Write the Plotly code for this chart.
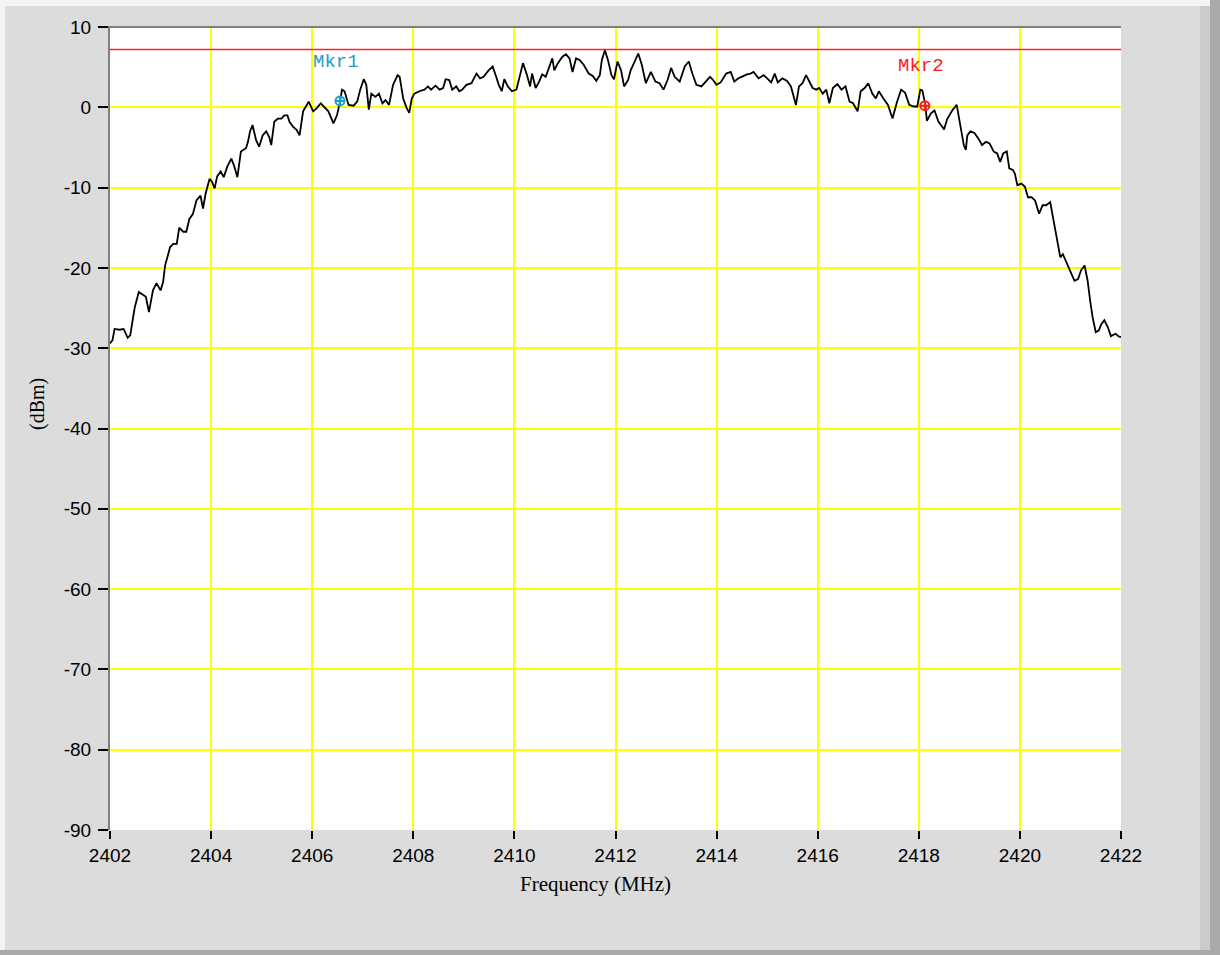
import plotly.graph_objects as go

# ---- data ----
freq_mhz = [
    2402.0, 2402.05, 2402.09, 2402.19, 2402.27, 2402.35, 2402.4, 2402.49, 2402.57, 2402.65,
    2402.71, 2402.77, 2402.85, 2402.92, 2403.0, 2403.05, 2403.09, 2403.19, 2403.25, 2403.32,
    2403.37, 2403.45, 2403.51, 2403.57, 2403.64, 2403.71, 2403.79, 2403.84, 2403.89, 2403.97,
    2404.02, 2404.07, 2404.12, 2404.19, 2404.25, 2404.32, 2404.4, 2404.45, 2404.52, 2404.59,
    2404.69, 2404.73, 2404.77, 2404.82, 2404.89, 2404.95, 2405.02, 2405.09, 2405.15, 2405.19,
    2405.25, 2405.32, 2405.39, 2405.45, 2405.51, 2405.55, 2405.62, 2405.69, 2405.75, 2405.82,
    2405.89, 2405.93, 2406.02, 2406.09, 2406.17, 2406.25, 2406.32, 2406.42, 2406.49, 2406.55,
    2406.59, 2406.64, 2406.72, 2406.82, 2406.89, 2406.95, 2407.02, 2407.07, 2407.12, 2407.17,
    2407.25, 2407.32, 2407.39, 2407.45, 2407.52, 2407.6, 2407.69, 2407.73, 2407.8, 2407.87,
    2407.92, 2407.97, 2408.02, 2408.12, 2408.22, 2408.29, 2408.35, 2408.44, 2408.52, 2408.59,
    2408.64, 2408.71, 2408.77, 2408.85, 2408.91, 2408.97, 2409.05, 2409.15, 2409.25, 2409.32,
    2409.39, 2409.49, 2409.57, 2409.64, 2409.69, 2409.75, 2409.8, 2409.87, 2409.95, 2410.04,
    2410.09, 2410.17, 2410.25, 2410.31, 2410.35, 2410.42, 2410.49, 2410.55, 2410.62, 2410.69,
    2410.75, 2410.79, 2410.86, 2410.95, 2411.02, 2411.09, 2411.15, 2411.22, 2411.29, 2411.37,
    2411.47, 2411.55, 2411.62, 2411.69, 2411.73, 2411.79, 2411.85, 2411.92, 2411.97, 2412.04,
    2412.11, 2412.17, 2412.25, 2412.3, 2412.4, 2412.45, 2412.52, 2412.6, 2412.7, 2412.79,
    2412.87, 2412.95, 2413.03, 2413.1, 2413.17, 2413.27, 2413.37, 2413.45, 2413.52, 2413.6,
    2413.7, 2413.79, 2413.87, 2413.93, 2414.0, 2414.08, 2414.19, 2414.28, 2414.35, 2414.43,
    2414.52, 2414.6, 2414.67, 2414.73, 2414.83, 2414.93, 2415.0, 2415.08, 2415.15, 2415.21,
    2415.3, 2415.39, 2415.47, 2415.57, 2415.63, 2415.7, 2415.77, 2415.83, 2415.9, 2415.97,
    2416.03, 2416.1, 2416.17, 2416.23, 2416.3, 2416.39, 2416.47, 2416.55, 2416.63, 2416.7,
    2416.79, 2416.85, 2416.93, 2417.0, 2417.08, 2417.15, 2417.21, 2417.3, 2417.39, 2417.48,
    2417.57, 2417.65, 2417.73, 2417.81, 2417.9, 2417.97, 2418.03, 2418.07, 2418.13, 2418.16,
    2418.24, 2418.31, 2418.39, 2418.46, 2418.5, 2418.56, 2418.66, 2418.75, 2418.82, 2418.89,
    2418.93, 2418.96, 2419.02, 2419.1, 2419.18, 2419.25, 2419.33, 2419.4, 2419.48, 2419.55,
    2419.61, 2419.67, 2419.74, 2419.79, 2419.86, 2419.9, 2419.95, 2420.03, 2420.1, 2420.16,
    2420.23, 2420.3, 2420.38, 2420.45, 2420.52, 2420.6, 2420.66, 2420.71, 2420.75, 2420.8,
    2420.85, 2420.92, 2421.0, 2421.08, 2421.15, 2421.21, 2421.28, 2421.34, 2421.39, 2421.44,
    2421.5, 2421.56, 2421.61, 2421.67, 2421.74, 2421.8, 2421.89, 2421.97, 2422.0,
]
power_dbm = [
    -29.4, -29.0, -27.6, -27.7, -27.6, -28.7, -28.4, -24.9, -23.0, -23.4,
    -23.6, -25.5, -22.8, -21.9, -22.8, -21.8, -19.7, -17.4, -17.0, -17.0,
    -15.0, -15.5, -15.5, -13.9, -13.3, -11.6, -11.0, -12.6, -10.8, -8.9,
    -9.3, -10.1, -8.6, -8.0, -8.7, -7.4, -6.4, -7.2, -8.7, -5.5,
    -5.1, -4.3, -3.0, -2.2, -4.1, -4.9, -3.5, -3.0, -3.7, -4.7,
    -1.8, -1.4, -1.4, -1.0, -1.0, -1.8, -2.4, -2.8, -3.5, -0.5,
    0.3, 0.7, -0.5, -0.1, 0.5, -0.1, -0.5, -2.0, -1.0, 0.7,
    2.2, 2.0, 0.3, 0.2, 0.7, 2.2, 3.5, 2.8, -0.3, 1.7,
    1.3, 1.7, 0.5, 0.9, 0.3, 2.8, 4.0, 3.8, 1.1, -0.1,
    -0.7, 1.1, 1.7, 2.0, 2.2, 2.6, 2.2, 2.7, 2.2, 2.4,
    3.5, 3.4, 2.2, 2.6, 2.0, 2.2, 2.8, 3.0, 4.2, 3.6,
    3.8, 4.6, 5.1, 3.8, 2.8, 2.0, 3.5, 2.6, 2.0, 2.2,
    3.6, 5.5, 4.0, 2.6, 4.2, 2.4, 3.2, 4.1, 3.8, 5.1,
    6.1, 4.6, 5.5, 6.3, 6.6, 6.1, 4.4, 6.1, 5.9, 5.3,
    4.2, 3.9, 3.3, 4.0, 5.9, 7.1, 5.9, 4.0, 3.5, 5.7,
    4.6, 2.6, 3.4, 4.6, 6.1, 6.7, 5.3, 3.0, 4.4, 3.2,
    3.0, 2.2, 3.4, 4.9, 3.8, 3.2, 5.1, 5.7, 4.2, 2.8,
    2.6, 3.2, 3.8, 3.4, 2.8, 3.1, 4.2, 4.4, 3.2, 3.6,
    3.9, 4.1, 4.2, 4.4, 3.6, 4.0, 3.6, 3.1, 4.2, 3.1,
    3.6, 3.3, 2.6, 0.3, 2.6, 3.0, 4.0, 3.2, 2.4, 2.2,
    2.4, 1.7, 2.2, 0.5, 2.4, 2.9, 2.2, 2.6, 0.7, 0.5,
    -0.5, 2.0, 2.4, 3.0, 1.7, 1.1, 2.0, 1.1, 0.3, -1.4,
    0.7, 2.2, 1.8, 0.3, 0.1, 0.1, 2.2, 2.1, 0.3, -1.7,
    -0.75, -0.4, -1.8, -2.4, -2.75, -1.5, -0.4, 0.3, -2.4, -4.7,
    -5.3, -3.5, -3.0, -3.2, -3.9, -4.7, -4.3, -4.5, -5.5, -5.75,
    -6.8, -5.75, -5.5, -7.6, -7.8, -8.25, -9.7, -9.5, -9.9, -11.2,
    -11.2, -11.6, -13.25, -12.2, -12.2, -11.8, -13.9, -15.75, -17.4, -18.7,
    -18.3, -19.3, -20.3, -21.6, -21.4, -20.3, -19.7, -21.6, -24.1, -26.2,
    -28.0, -27.8, -27.0, -26.5, -27.4, -28.5, -28.2, -28.6, -28.6,
]

limit_dbm = 7.2
marker_names = ["Mkr1", "Mkr2"]
marker_freq = [2406.55, 2418.12]
marker_power = [0.8, 0.2]
marker_colors = ["#1a9fcf", "#ff1a1a"]
marker_label_freq = [2406.48, 2418.05]
marker_label_power = [5.6, 5.1]

x_ticks = [2402, 2404, 2406, 2408, 2410, 2412, 2414, 2416, 2418, 2420, 2422]
y_ticks = [10, 0, -10, -20, -30, -40, -50, -60, -70, -80, -90]
y_ticktext = [str(v) for v in y_ticks]  # ASCII hyphen minus

# ---- layout geometry (pixels) ----
W, H = 1220, 955
ML, MR, MT, MB = 110, 99, 27, 125
PW, PH = W - ML - MR, H - MT - MB


def px_x(p):
    return (p - ML) / PW


def px_y(p):
    return (H - MB - p) / PH


fig = go.Figure()

fig.add_trace(go.Scatter(
    x=freq_mhz, y=power_dbm, mode="lines",
    line=dict(color="black", width=1.8), hoverinfo="skip", showlegend=False,
))

for name, fx, fy, col, lx, ly in zip(marker_names, marker_freq, marker_power,
                                     marker_colors, marker_label_freq, marker_label_power):
    fig.add_trace(go.Scatter(
        x=[fx], y=[fy], mode="markers",
        marker=dict(symbol="circle-cross-open", size=9, color=col, line=dict(width=2, color=col)),
        showlegend=False, hoverinfo="skip",
    ))
    fig.add_annotation(x=lx, y=ly, xref="x", yref="y", text=name, showarrow=False,
                       xanchor="center", yanchor="middle",
                       font=dict(family="Liberation Mono", size=19, color=col))

# limit line
fig.add_shape(type="line", xref="paper", yref="y", x0=0, x1=1, y0=limit_dbm, y1=limit_dbm,
              line=dict(color="#ff2020", width=1.5))

# top border of plot
fig.add_shape(type="line", xref="paper", yref="paper", x0=-0.002, x1=1.0, y0=1.0, y1=1.0,
              line=dict(color="#808080", width=2))

# window bevel frame
frame = [
    (0, 0, W, 6, "#f4f4f4"),
    (0, 0, 5, H, "#f4f4f4"),
    (1200, 6, 1210, H, "#cbcbcb"),
    (1210, 0, W, H, "#a9a9a9"),
    (0, 950, W, H, "#a9a9a9"),
]
for x0, y0, x1, y1, c in frame:
    fig.add_shape(type="rect", xref="paper", yref="paper",
                  x0=px_x(x0), x1=px_x(x1), y0=px_y(y1), y1=px_y(y0),
                  line=dict(width=0), fillcolor=c, layer="below")

# axis titles
fig.add_annotation(x=px_x(595), y=px_y(884), xref="paper", yref="paper",
                   xanchor="center", yanchor="middle",
                   text="Frequency (MHz)", showarrow=False,
                   font=dict(family="Liberation Serif", size=21, color="black"))
fig.add_annotation(x=px_x(37), y=px_y(404), xref="paper", yref="paper",
                   xanchor="center", yanchor="middle",
                   text="(dBm)", showarrow=False, textangle=-90,
                   font=dict(family="Liberation Serif", size=20, color="black"))

fig.update_layout(
    width=W, height=H,
    margin=dict(l=ML, r=MR, t=MT, b=MB, pad=0),
    paper_bgcolor="#dcdcdc",
    plot_bgcolor="white",
    font=dict(family="Liberation Sans", size=19, color="black"),
    xaxis=dict(
        range=[2402, 2422], tickvals=x_ticks, ticktext=[str(v) for v in x_ticks],
        showgrid=True, gridcolor="#ffff00", gridwidth=2,
        zeroline=False, showline=False,
        ticks="outside", ticklen=8, tickwidth=2, tickcolor="black",
    ),
    yaxis=dict(
        range=[-90, 10], tickvals=y_ticks, ticktext=y_ticktext,
        showgrid=True, gridcolor="#ffff00", gridwidth=2,
        zeroline=False, showline=True, linecolor="#808080", linewidth=2,
        ticks="outside", ticklen=10, tickwidth=1.5, tickcolor="black",
        ticklabelstandoff=3,
    ),
)

fig.write_html("out.html")
